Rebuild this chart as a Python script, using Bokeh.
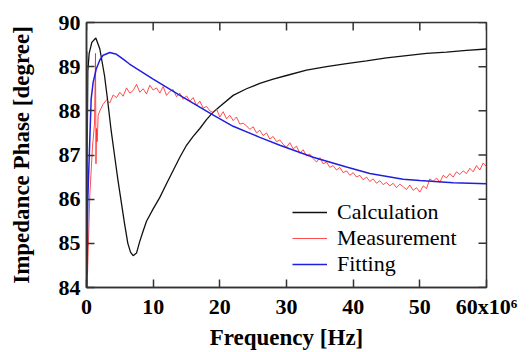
from bokeh.plotting import figure
from bokeh.models import (FixedTicker, Range1d, Legend, LegendItem)
from bokeh.embed import file_html
from bokeh.resources import INLINE
import math

calc_x = [0.0, 0.1, 0.2, 0.4, 0.8, 1.4, 2.0, 2.7, 3.2, 3.7, 4.2, 4.7, 5.2, 5.7, 6.2,
          6.6, 7.0, 7.5, 8.0, 8.5, 9.0, 10.0, 11.0, 12.0, 13.0, 14.0, 15.0, 16.0, 17.0,
          18.0, 19.0, 20.0, 22.0, 24.0, 26.0, 28.0, 30.0, 33.0, 36.0, 39.0, 42.0, 45.0,
          48.0, 51.0, 54.0, 57.0, 60.0]
calc_y = [84.0, 87.0, 88.9, 89.3, 89.55, 89.65, 89.4, 88.8, 88.2, 87.55, 87.0, 86.45,
          85.95, 85.45, 85.0, 84.8, 84.72, 84.78, 85.05, 85.28, 85.5, 85.78, 86.04,
          86.35, 86.65, 86.95, 87.22, 87.42, 87.6, 87.8, 87.97, 88.1, 88.35, 88.5,
          88.62, 88.72, 88.8, 88.92, 89.0, 89.07, 89.13, 89.2, 89.25, 89.3, 89.33,
          89.37, 89.4]

fit_x = [0.0, 0.05, 0.2, 0.45, 0.7, 1.0, 1.45, 2.0, 2.5, 3.5, 4.5, 5.5, 6.45, 10.0,
         14.45, 18.7, 22.0, 26.0, 29.0, 34.0, 39.0, 42.5, 47.5, 50.0, 55.0, 60.0]
fit_y = [84.0, 84.0, 86.0, 87.15, 88.27, 88.65, 88.94, 89.15, 89.26, 89.32, 89.28,
         89.17, 89.06, 88.72, 88.31, 87.93, 87.65, 87.40, 87.22, 86.95, 86.73, 86.58,
         86.45, 86.42, 86.37, 86.35]

meas_x_start = [0.0, 0.06, 0.1, 0.15, 0.5, 0.9, 1.2, 1.35, 1.42, 1.5, 1.6, 1.75, 2.0]
meas_y_start = [84.0, 89.35, 87.0, 84.3, 86.1, 87.2, 87.7, 89.3, 86.8, 87.6, 87.3,
                87.9, 88.0]
meas_y_rest = [
    88.15, 88.25, 88.18, 88.36, 88.30, 88.42, 88.33, 88.52, 88.40, 88.46,
    88.60, 88.42, 88.50, 88.38, 88.58, 88.47, 88.52, 88.40, 88.55, 88.35,
    88.44, 88.48, 88.32, 88.40, 88.26, 88.34, 88.22, 88.30, 88.12, 88.22,
    88.06, 88.10, 88.00, 87.96, 88.04, 87.86, 87.98, 87.82, 87.90, 87.78,
    87.86, 87.70, 87.72, 87.66, 87.58, 87.64, 87.50, 87.56, 87.44, 87.50,
    87.36, 87.42, 87.30, 87.34, 87.24, 87.18, 87.28, 87.14, 87.20, 87.04,
    87.12, 86.98, 87.02, 86.92, 86.84, 86.94, 86.80, 86.84, 86.72, 86.76,
    86.66, 86.72, 86.60, 86.64, 86.54, 86.60, 86.50, 86.54, 86.44, 86.50,
    86.40, 86.46, 86.36, 86.42, 86.33, 86.38, 86.30, 86.36, 86.26, 86.34,
    86.28, 86.22, 86.32, 86.20, 86.26, 86.16, 86.30, 86.24, 86.46, 86.40,
    86.48, 86.38, 86.54, 86.48, 86.58, 86.50, 86.62, 86.56, 86.64, 86.58,
    86.70, 86.62, 86.76, 86.66, 86.82, 86.74]
meas_x_rest = [2.5 + 0.5 * i for i in range(len(meas_y_rest))]
meas_x = meas_x_start + meas_x_rest
meas_y = meas_y_start + meas_y_rest

x_ticks = [0, 10, 20, 30, 40, 50, 60]
y_ticks = [84, 85, 86, 87, 88, 89, 90]
series_names = ["Calculation", "Measurement", "Fitting"]

SERIF = "Liberation Serif"
FRAME = "#333333"

p = figure(width=529, height=352, output_backend="svg", toolbar_location=None,
           x_range=Range1d(x_ticks[0], x_ticks[-1]), y_range=Range1d(y_ticks[0], y_ticks[-1]),
           min_border_left=86, min_border_top=22, min_border_right=43,
           min_border_bottom=62)
p.background_fill_color = "white"
p.border_fill_color = "white"
p.outline_line_color = FRAME
p.outline_line_width = 1.5
p.xgrid.visible = False
p.ygrid.visible = False

xb = p.below[0]
yl = p.left[0]
for ax, ticks in ((xb, x_ticks), (yl, y_ticks)):
    ax.ticker = FixedTicker(ticks=ticks, minor_ticks=[])
    ax.axis_line_color = FRAME
    ax.axis_line_width = 1.5
    ax.major_tick_line_color = FRAME
    ax.major_tick_line_width = 1.5
    ax.major_tick_in = 8
    ax.major_tick_out = 0
    ax.minor_tick_line_color = None
    ax.major_label_text_font = SERIF
    ax.major_label_text_font_style = "bold"
    ax.major_label_text_font_size = "22px"
    ax.major_label_text_color = "black"
    ax.major_label_standoff = 6
    ax.axis_label_text_font = SERIF
    ax.axis_label_text_font_style = "bold"
    ax.axis_label_text_font_size = "23px"
    ax.axis_label_text_color = "black"
xb.major_label_overrides = {60: "60x10\u2076"}
xb.axis_label = "Frequency [Hz]"
yl.axis_label = "Impedance Phase [degree]"
xb.axis_label_standoff = 3
yl.axis_label_standoff = 22

# mirrored inward ticks on the top and right edges of the frame
p.ray(x=x_ticks, y=[y_ticks[-1]] * len(x_ticks), length=8, length_units="screen",
      angle=-math.pi / 2, line_color=FRAME, line_width=1.5)
p.ray(x=[x_ticks[-1]] * len(y_ticks), y=y_ticks, length=8, length_units="screen",
      angle=math.pi, line_color=FRAME, line_width=1.5)

r_calc = p.line(calc_x, calc_y, line_color="#111111", line_width=1.3)
r_meas = p.line(meas_x, meas_y, line_color="#ff2020", line_width=1, line_alpha=0.8)
r_fit = p.line(fit_x, fit_y, line_color="#1f1fe0", line_width=1.5)

legend = Legend(items=[LegendItem(label=series_names[0], renderers=[r_calc]),
                       LegendItem(label=series_names[1], renderers=[r_meas]),
                       LegendItem(label=series_names[2], renderers=[r_fit])],
                location=(206, 10), padding=0, margin=0, spacing=0,
                glyph_width=35, label_standoff=10,
                label_text_font=SERIF, label_text_font_size="22px",
                label_text_color="black",
                background_fill_alpha=0, border_line_alpha=0)
p.add_layout(legend, "center")

open("out.html", "w").write(file_html(p, INLINE))
